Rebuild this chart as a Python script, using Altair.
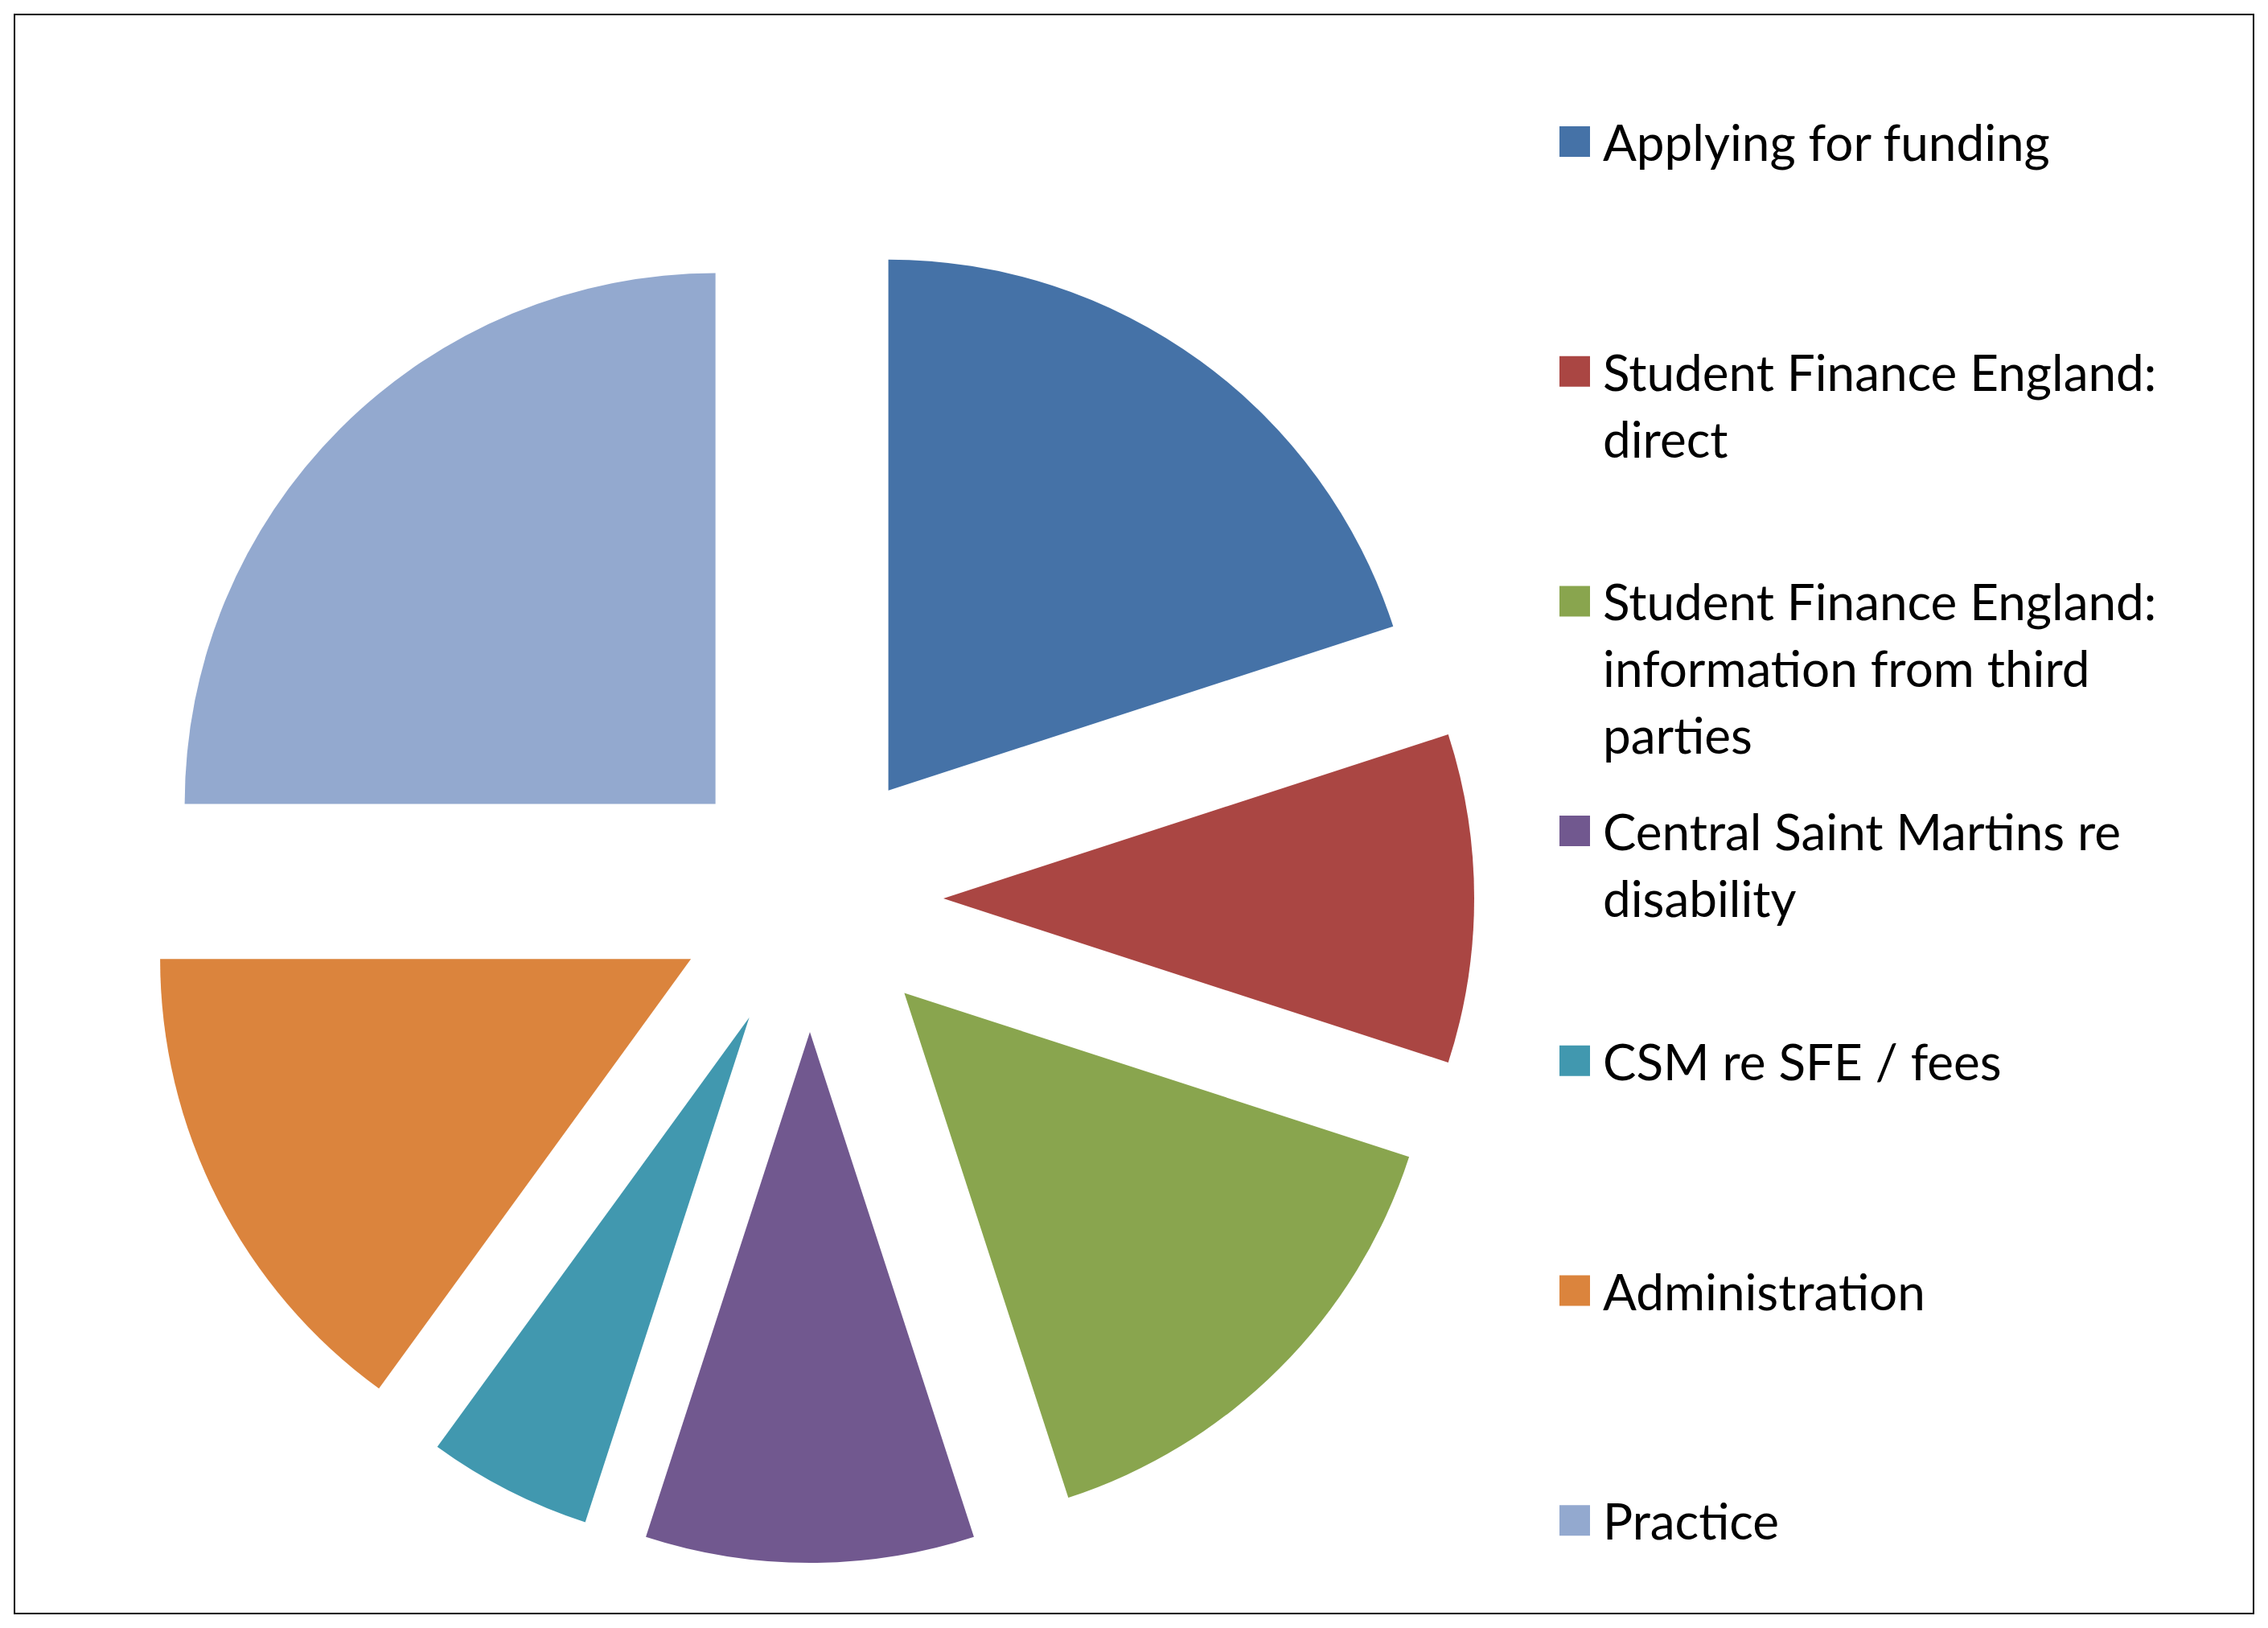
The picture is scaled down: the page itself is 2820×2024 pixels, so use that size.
import altair as alt
import pandas as pd

# ---- data ----
categories = [
    "Applying for funding",
    "Student Finance England: direct",
    "Student Finance England: information from third parties",
    "Central Saint Martins re disability",
    "CSM re SFE / fees",
    "Administration",
    "Practice",
]
values = [20, 10, 15, 10, 5, 15, 25]
colors = ["#4572A7", "#AA4643", "#89A54E", "#71588F", "#4198AF", "#DB843D", "#93A9CF"]
legend_lines = [
    ["Applying for funding"],
    ["Student Finance England:", "direct"],
    ["Student Finance England:", "information from third", "parties"],
    ["Central Saint Martins re", "disability"],
    ["CSM re SFE / fees"],
    ["Administration"],
    ["Practice"],
]

# ---- layout / style constants ----
W, H = 2784, 1988
PAD = 18
CX, CY = 989, 1099          # pie centre (view coords)
RADIUS = 660
EXPLODE = 166
LEG_SQ_X = 1940
LEG_TXT_X = 1975
LEG_Y0 = 158
LEG_STEP = 285.7
LEG_LINE = 83
LEG_BASE = 24

pie_df = pd.DataFrame({"cat": categories, "value": values, "order": list(range(len(values)))})

rows = []
for i, (cat, lines) in enumerate(zip(categories, legend_lines)):
    for j, t in enumerate(lines):
        rows.append({"cat": cat, "idx": i, "line": j, "text": t})
leg_df = pd.DataFrame(rows)
sq_df = pd.DataFrame({"cat": categories, "idx": list(range(len(categories)))})

color_scale = alt.Scale(domain=categories, range=colors)

pie = (
    alt.Chart(pie_df)
    .transform_joinaggregate(total="sum(value)")
    .transform_window(cum="sum(value)", sort=[alt.SortField("order")], frame=[None, 0])
    .transform_calculate(
        t1="datum.cum / datum.total * 2 * PI",
        t0="(datum.cum - datum.value) / datum.total * 2 * PI",
    )
    .transform_calculate(mid="(datum.t0 + datum.t1) / 2")
    .transform_calculate(
        px=f"{CX} + {EXPLODE} * sin(datum.mid)",
        py=f"{CY} - {EXPLODE} * cos(datum.mid)",
    )
    .mark_arc(radius=RADIUS, stroke=None)
    .encode(
        theta=alt.Theta("t0:Q", scale=None, stack=None),
        theta2=alt.Theta2("t1:Q"),
        x=alt.X("px:Q", scale=None),
        y=alt.Y("py:Q", scale=None),
        color=alt.Color("cat:N", scale=color_scale, legend=None),
    )
)

squares = (
    alt.Chart(sq_df)
    .transform_calculate(py=f"{LEG_Y0} + datum.idx * {LEG_STEP}")
    .mark_square(size=38 * 38, opacity=1, filled=True)
    .encode(
        x=alt.value(LEG_SQ_X),
        y=alt.Y("py:Q", scale=None),
        color=alt.Color("cat:N", scale=color_scale, legend=None),
    )
)

texts = (
    alt.Chart(leg_df)
    .transform_calculate(py=f"{LEG_Y0} + {LEG_BASE} + datum.idx * {LEG_STEP} + datum.line * {LEG_LINE}")
    .mark_text(align="left", baseline="alphabetic", font="Lato", fontSize=62, color="#000000")
    .encode(
        x=alt.value(LEG_TXT_X),
        y=alt.Y("py:Q", scale=None),
        text="text:N",
    )
)

chart = (
    alt.layer(pie, squares, texts)
    .properties(
        width=W,
        height=H,
        padding={"left": PAD, "top": PAD, "right": PAD, "bottom": PAD},
        autosize=alt.AutoSizeParams(type="none"),
        background="white",
    )
    .configure_view(stroke="#000000", strokeWidth=2)
)

chart.save("out.html", embed_options={"renderer": "svg", "actions": False})
